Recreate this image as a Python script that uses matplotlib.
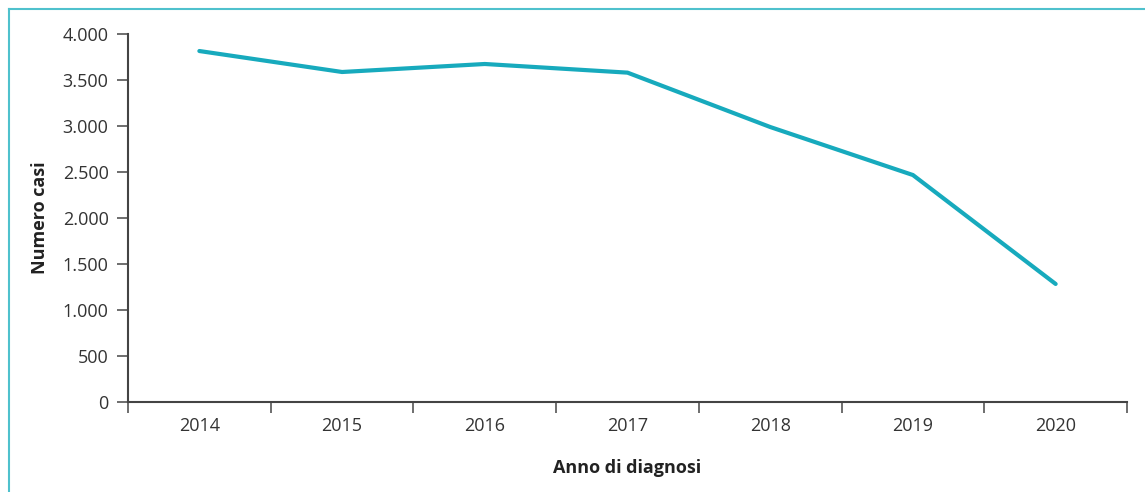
import matplotlib
matplotlib.use("Agg")
import matplotlib.pyplot as plt
from matplotlib.lines import Line2D
from matplotlib.ticker import FuncFormatter
import numpy as np

years = ["2014", "2015", "2016", "2017", "2018", "2019", "2020"]
cases = [3815, 3587, 3674, 3580, 2989, 2467, 1283]
yticks = [0, 500, 1000, 1500, 2000, 2500, 3000, 3500, 4000]

plt.rcParams['font.family'] = ['Open Sans', 'DejaVu Sans']

W, H = 1145, 492
fig = plt.figure(figsize=(W / 100, H / 100), dpi=100)
ax = fig.add_axes([128 / W, (H - 402) / H, (1127 - 128) / W, (402 - 34) / H])

x = np.arange(len(years))
ax.plot(x, cases, color="#17aabd", lw=3.0, solid_capstyle="round", solid_joinstyle="miter")

ax.set_xlim(-0.5, len(years) - 0.5)
ax.set_ylim(0, 4000)
ax.set_xticks(np.arange(len(years) + 1) - 0.5)
ax.set_xticklabels([])
ax.set_xticks(x, minor=True)
ax.set_xticklabels(years, minor=True)
ax.tick_params(axis="x", which="minor", length=0, pad=11, labelsize=13, labelcolor="#333333")
ax.tick_params(axis="x", which="major", length=8, width=1.2, color="#555555", direction="out")
ax.set_yticks(yticks)
ax.yaxis.set_major_formatter(FuncFormatter(lambda v, p: f"{int(v):,}".replace(",", ".")))
ax.tick_params(axis="y", length=8, width=1.2, color="#555555", labelsize=13, labelcolor="#333333", pad=6)

for s in ["top", "right"]:
    ax.spines[s].set_visible(False)
for s in ["left", "bottom"]:
    ax.spines[s].set_color("#444444")
    ax.spines[s].set_linewidth(1.5)

ax.set_ylabel("Numero casi", fontsize=13, fontweight="bold", color="#222222", labelpad=10)
ax.set_xlabel("Anno di diagnosi", fontsize=13, fontweight="bold", color="#222222", labelpad=17)

frame_color = "#4fc1cd"
fig.add_artist(Line2D([9 / W, 9 / W], [0, 1 - 9 / H], transform=fig.transFigure, color=frame_color, lw=1.5))
fig.add_artist(Line2D([9 / W, 1], [1 - 9 / H, 1 - 9 / H], transform=fig.transFigure, color=frame_color, lw=1.5))

fig.savefig("out.png", dpi=100)
